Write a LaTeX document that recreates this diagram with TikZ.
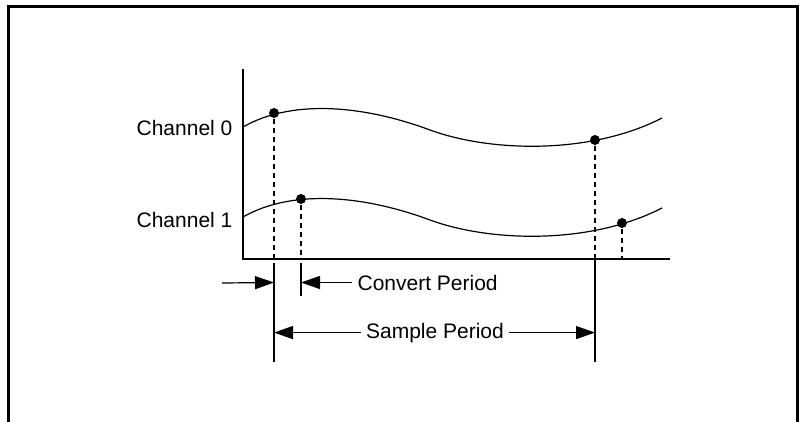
\documentclass[tikz,border=0pt]{standalone}
\usepackage{fontspec}
\setmainfont{Liberation Sans}
\usepackage{tikz}
\usetikzlibrary{positioning,arrows.meta}

\begin{document}
\begin{tikzpicture}[x=1pt,y=-1pt,line width=1.2pt,>={Triangle[length=19pt,width=13pt]}]
  \tikzstyle{sample}=[circle,fill,inner sep=0pt,minimum size=10pt]
  \tikzstyle{lbl}=[font=\fontsize{21}{25}\selectfont,inner sep=0pt]
  \tikzstyle{period}=[lbl,inner xsep=5pt]
  \tikzstyle{drop}=[dash pattern=on 5pt off 4pt]

  \useasboundingbox (0,0) rectangle (800,421);
  \draw[line width=2.2pt] (8.5,425) -- (8.5,6.5) -- (797.5,6.5) -- (797.5,425);

  % axes
  \coordinate (top) at (243,69);
  \coordinate (o) at (243,259);
  \coordinate (end) at (670,259);
  \draw (top) -- (o) -- (end);

  % the two signals
  \draw (243,127) .. controls (290,100) and (360,104) .. (430,130)
        .. controls (490,152) and (590,155) .. (662,118);
  \draw (243,217) .. controls (290,190) and (360,194) .. (430,220)
        .. controls (490,242) and (590,245) .. (662,208);

  \node[lbl,anchor=east] (ch0) at (233,128) {Channel 0};
  \node[lbl,anchor=east] (ch1) at (233,220) {Channel 1};

  % samples
  \node[sample] (a0) at (274,113) {};
  \node[sample] (a1) at (301,199) {};
  \node[sample] (b0) at (595,140) {};
  \node[sample] (b1) at (622,223) {};

  \draw[drop] (a0) -- (a0 |- o);
  \draw[drop] (a1) -- (a1 |- o);
  \draw[drop] (b0) -- (b0 |- o);
  \draw[drop] (b1) -- (b1 |- o);

  % markers under the axis
  \coordinate (g0) at (274,263);
  \coordinate (g1) at (301,263);
  \coordinate (g2) at (595,259);
  \draw (g0) -- (274,362);
  \draw (g1) -- (301,296);
  \draw (g2) -- (595,362);

  \node[period,anchor=base west] (conv) at (352,290) {Convert Period};
  \node[period,anchor=base] (samp) at (435,338) {Sample Period};
  \coordinate (in) at (222,283);

  \draw[->] (in) -- (g0 |- conv);
  \draw[->] (conv.west) -- (g1 |- conv);
  \draw[->] (samp.west) -- (g0 |- samp);
  \draw[->] (samp.east) -- (g2 |- samp);
\end{tikzpicture}
\end{document}
